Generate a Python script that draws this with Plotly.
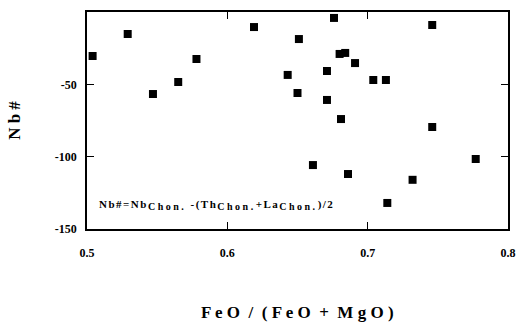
import plotly.graph_objects as go

fe_ratio = [0.504, 0.529, 0.547, 0.565, 0.578, 0.619, 0.676, 0.746, 0.651, 0.680,
            0.684, 0.691, 0.643, 0.671, 0.704, 0.713, 0.650, 0.671, 0.681, 0.746,
            0.777, 0.661, 0.686, 0.732, 0.714]
nb_num = [-30.4, -15.2, -56.7, -48.4, -32.5, -10.4, -4.1, -9.0, -18.7, -29.0,
          -28.3, -35.3, -43.5, -40.8, -47.0, -47.0, -56.0, -60.8, -74.0, -79.5,
          -101.6, -105.8, -112.0, -116.0, -132.0]

x_ticks = [0.5, 0.6, 0.7, 0.8]
y_ticks = [-50, -100, -150]

font_family = "Liberation Serif"

fig = go.Figure()
fig.add_trace(go.Scatter(
    x=fe_ratio, y=nb_num, mode="markers",
    marker=dict(symbol="square", size=8, color="black"),
    showlegend=False,
))

sub = "<sub><span style='font-size:10px;letter-spacing:2.5px'>Chon.</span></sub>"
formula = ("<span style='letter-spacing:1.5px'><b>Nb#=Nb</b></span>" + "<b>" + sub + "</b>"
           + "<span style='letter-spacing:1.5px'><b> -(Th</b></span>" + "<b>" + sub + "</b>"
           + "<span style='letter-spacing:1.5px'><b>+La</b></span>" + "<b>" + sub + "</b>"
           + "<span style='letter-spacing:1.5px'><b>)/2</b></span>")

fig.add_annotation(
    x=0.507, y=-133.5, xref="x", yref="y", xanchor="left", yanchor="middle",
    text=formula,
    showarrow=False, font=dict(family=font_family, size=11, color="black"),
)

fig.add_annotation(
    x=0.5, y=-0.387, xref="paper", yref="paper", xanchor="center", yanchor="middle",
    text="<b>F e O  /  ( F e O  +  M g O )</b>",
    showarrow=False, font=dict(family=font_family, size=17, color="black"),
)

fig.update_layout(
    width=516, height=325,
    margin=dict(l=87, r=8, t=12, b=96, autoexpand=False),
    paper_bgcolor="white", plot_bgcolor="white",
    font=dict(family=font_family, color="black"),
    xaxis=dict(
        range=[0.5, 0.8], tickvals=x_ticks, ticktext=["<b>%g</b>" % v for v in x_ticks],
        ticks="inside", ticklen=7, tickwidth=1.2, tickcolor="black",
        showline=True, linecolor="black", linewidth=1.5, mirror="ticks",
        showgrid=False, zeroline=False,
        tickfont=dict(family=font_family, size=12),
        ticklabelstandoff=12,
    ),
    yaxis=dict(
        range=[-150, 0], tickvals=y_ticks, ticktext=["<b>%g</b>" % v for v in y_ticks],
        ticks="inside", ticklen=7, tickwidth=1.2, tickcolor="black",
        showline=True, linecolor="black", linewidth=1.5, mirror="ticks",
        showgrid=False, zeroline=False,
        tickfont=dict(family=font_family, size=12),
        ticklabelstandoff=6,
        title=dict(text="<b>N b #</b>", font=dict(family=font_family, size=17), standoff=30),
    ),
)

fig.write_html("out.html")
